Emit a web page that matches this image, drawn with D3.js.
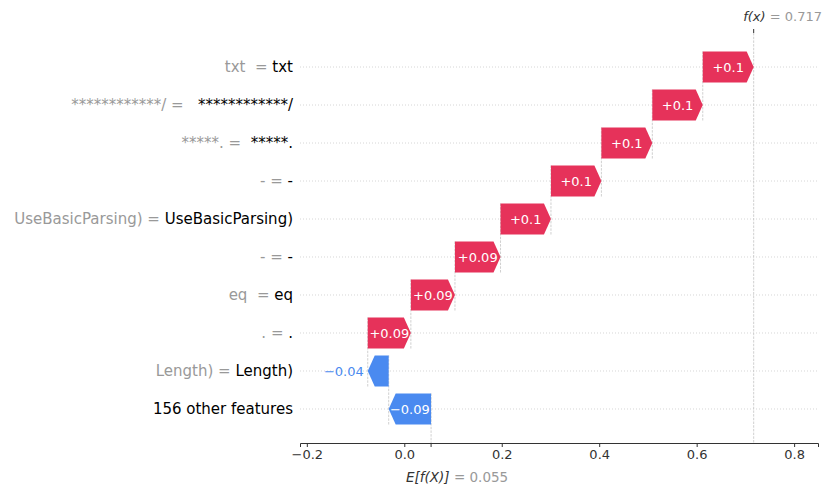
<!DOCTYPE html>
<html>
<head>
<meta charset="utf-8">
<script src="https://cdn.jsdelivr.net/npm/d3@7"></script>
<style>
  html, body { margin: 0; padding: 0; background: #fff; }
  svg { display: block; font-family: "DejaVu Sans", sans-serif; }
  text { white-space: pre; }
</style>
</head>
<body>
<svg id="chart" width="828" height="492"></svg>
<script>
// ---- data (rows listed top to bottom) ----
const featureValues = ["txt ", "************/", "*****.", "-", "UseBasicParsing)", "-", "eq ", ".", "Length)", ""];
const featureNames  = ["txt", "  ************/", " *****.", "-", "UseBasicParsing)", "-", "eq", ".", "Length)", "156 other features"];
const shapValues    = [0.1045, 0.1035, 0.1045, 0.1035, 0.1035, 0.0935, 0.0905, 0.0885, -0.043, -0.087];
const baseValue = 0.055;
const fxValue = 0.717;
const xTicks = [-0.2, 0.0, 0.2, 0.4, 0.6, 0.8];

// ---- layout ----
const RED = "#e6325a", BLUE = "#4a8af0";
const svg = d3.select("#chart");
const plotL = 300, plotR = 818, plotT = 33, plotB = 443;
const x = d3.scaleLinear().domain([-0.214, 0.849]).range([plotL, plotR]);
const n = featureNames.length;
const y = d3.scaleLinear().domain([-0.895, n - 1 + 0.895]).range([plotT, plotB]);
const half = 0.41 * (y(1) - y(0));

// waterfall positions from bottom up
const starts = new Array(n), ends = new Array(n);
let loc = baseValue;
for (let i = n - 1; i >= 0; i--) { starts[i] = loc; ends[i] = loc + shapValues[i]; loc = ends[i]; }

const fmt = v => {
  let s = d3.format("+.2f")(v);
  s = s.replace(/0+$/, "").replace(/\.$/, "");
  return s.replace("-", "\u2212");
};

// horizontal dotted grid lines
svg.append("g").selectAll("line").data(d3.range(n)).join("line")
  .attr("x1", plotL).attr("x2", plotR)
  .attr("y1", i => y(i)).attr("y2", i => y(i))
  .attr("stroke", "#cccccc").attr("stroke-width", 0.8).attr("stroke-dasharray", "1,2");

// connector dashed lines
svg.append("g").selectAll("line").data(d3.range(n)).join("line")
  .attr("x1", i => x(starts[i])).attr("x2", i => x(starts[i]))
  .attr("y1", i => y(i) - half)
  .attr("y2", i => i < n - 1 ? y(i + 1) + half : plotB)
  .attr("stroke", "#bbbbbb").attr("stroke-width", 0.7).attr("stroke-dasharray", "2.5,1.2");

// f(x) vertical line
svg.append("line").attr("x1", x(fxValue)).attr("x2", x(fxValue)).attr("y1", plotT).attr("y2", plotB)
  .attr("stroke", "#bbbbbb").attr("stroke-width", 0.7).attr("stroke-dasharray", "2.5,1.2");

// bars (arrow shapes)
const hlMax = 7;
const barPath = i => {
  const a = x(starts[i]), b = x(ends[i]), cy = y(i);
  const w = Math.abs(b - a), hl = Math.min(hlMax, w);
  const dir = b >= a ? 1 : -1;
  const neck = b - dir * hl;
  return `M${a},${cy - half}L${neck},${cy - half}L${b},${cy}L${neck},${cy + half}L${a},${cy + half}Z`;
};
svg.append("g").selectAll("path").data(d3.range(n)).join("path")
  .attr("d", barPath)
  .attr("fill", i => shapValues[i] >= 0 ? RED : BLUE);

// bar labels
const lbl = svg.append("g").selectAll("text").data(d3.range(n)).join("text")
  .attr("font-size", 13)
  .attr("dy", "0.36em")
  .text(i => fmt(shapValues[i]));
lbl.each(function(i) {
  const t = d3.select(this);
  const w = Math.abs(x(ends[i]) - x(starts[i]));
  const tw = this.getComputedTextLength();
  const col = shapValues[i] >= 0 ? RED : BLUE;
  if (tw < w) {
    t.attr("x", (x(starts[i]) + x(ends[i])) / 2).attr("y", y(i))
     .attr("text-anchor", "middle").attr("fill", "#fff");
  } else if (shapValues[i] < 0) {
    t.attr("x", x(ends[i]) - 4).attr("y", y(i)).attr("text-anchor", "end").attr("fill", col);
  } else {
    t.attr("x", x(ends[i]) + 4).attr("y", y(i)).attr("text-anchor", "start").attr("fill", col);
  }
});

// y labels
const yl = svg.append("g").selectAll("text").data(d3.range(n)).join("text")
  .attr("x", 293).attr("y", i => y(i)).attr("dy", "0.36em")
  .attr("text-anchor", "end").attr("font-size", 15);
yl.append("tspan").attr("fill", "#999999").text(i => featureValues[i] ? featureValues[i] + " = " : "");
yl.append("tspan").attr("fill", "#000000").text(i => featureNames[i]);

// bottom axis
const axisG = svg.append("g").attr("transform", `translate(0,${plotB})`)
  .call(d3.axisBottom(x).tickValues(xTicks).tickSize(4).tickPadding(3)
        .tickFormat(d => d3.format(".1f")(d).replace("-", "\u2212")));
axisG.select(".domain").attr("stroke", "#333333").attr("stroke-width", 1);
axisG.selectAll(".tick line").attr("stroke", "#333333");
axisG.selectAll(".tick text").attr("fill", "#333333").attr("font-size", 13).attr("font-family", "DejaVu Sans");

// E[f(X)] tick and label
svg.append("line").attr("x1", x(baseValue)).attr("x2", x(baseValue)).attr("y1", plotB).attr("y2", plotB + 4)
  .attr("stroke", "#333333");
const eT = svg.append("text").attr("x", 406).attr("y", 482).attr("font-size", 13.5);
eT.append("tspan").attr("fill", "#333333").attr("font-style", "italic").text("E[f(X)]");
eT.append("tspan").attr("fill", "#999999").text(" = " + d3.format(".3f")(baseValue));

// f(x) top tick and label
svg.append("line").attr("x1", x(fxValue)).attr("x2", x(fxValue)).attr("y1", plotT - 4).attr("y2", plotT)
  .attr("stroke", "#333333");
const fT = svg.append("text").attr("x", 822).attr("y", 21).attr("text-anchor", "end").attr("font-size", 13);
fT.append("tspan").attr("fill", "#333333").attr("font-style", "italic").text("f(x)");
fT.append("tspan").attr("fill", "#999999").text(" = " + d3.format(".3f")(fxValue));
</script>
</body>
</html>
